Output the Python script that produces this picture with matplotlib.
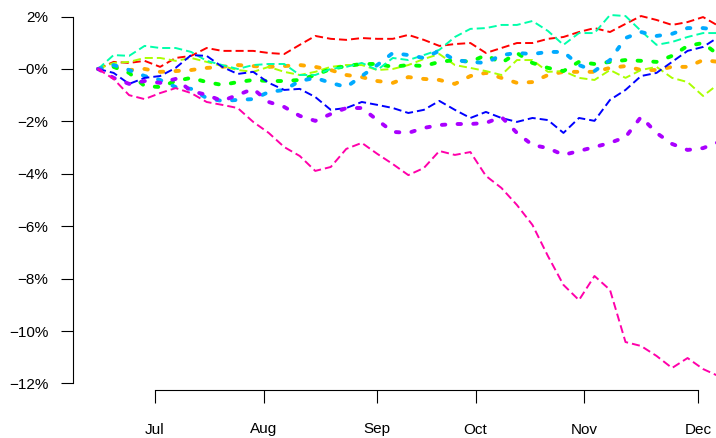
import numpy as np
import matplotlib
matplotlib.use('Agg')
import matplotlib.pyplot as plt

plt.rcParams['font.family'] = ['Liberation Sans', 'DejaVu Sans']
plt.rcParams['lines.scale_dashes'] = False

# trading-day index of each sample (every 3rd day)
days = list(range(0, 121, 3))

# cumulative returns in percent
red = [0.0, 0.27, 0.23, 0.31, 0.08, 0.42, 0.50, 0.80, 0.69, 0.69, 0.69, 0.61, 0.57, 0.92,
       1.26, 1.15, 1.11, 1.18, 1.15, 1.15, 1.30, 1.11, 0.88, 0.95, 0.99, 0.61, 0.80, 0.99,
       0.99, 1.15, 1.22, 1.41, 1.56, 1.41, 1.72, 2.02, 1.87, 1.68, 1.79, 1.98, 1.64]
orange = [0.0, 0.11, -0.04, 0.0, -0.11, -0.08, -0.04, 0.04, 0.08, 0.15, 0.11, 0.08, 0.11,
          0.15, 0.08, -0.04, -0.23, -0.31, -0.46, -0.53, -0.31, -0.38, -0.42, -0.57, -0.27,
          -0.15, -0.34, -0.53, -0.50, -0.23, -0.11, -0.11, -0.11, 0.04, 0.11, -0.04, -0.04,
          0.08, 0.08, 0.34, 0.27]
yellowgreen = [0.0, 0.23, 0.27, 0.42, 0.42, 0.31, 0.42, 0.27, 0.11, -0.04, -0.11, 0.08,
               -0.11, -0.23, -0.11, 0.08, 0.15, 0.15, -0.04, 0.0, 0.15, 0.38, 0.57, 0.15,
               0.04, -0.08, -0.23, 0.34, 0.34, -0.11, -0.08, -0.34, -0.42, -0.04, -0.34,
               -0.04, 0.08, -0.34, -0.50, -1.03, -0.57]
green = [0.0, 0.08, -0.15, -0.65, -0.69, -0.46, -0.34, -0.50, -0.61, -0.50, -0.42, -0.46,
         -0.46, -0.42, -0.23, 0.0, 0.11, 0.19, 0.19, 0.08, 0.15, 0.11, 0.27, 0.34, 0.27,
         0.53, 0.23, 0.61, 0.23, 0.04, -0.08, 0.27, 0.19, 0.27, 0.34, 0.31, 0.27, 0.50,
         0.88, 0.99, 0.53]
aquamarine = [0.0, 0.53, 0.50, 0.88, 0.80, 0.80, 0.65, 0.31, 0.15, 0.0, 0.15, 0.19, 0.19,
              -0.23, -0.23, 0.0, 0.08, 0.23, -0.04, 0.42, 0.34, 0.53, 0.73, 1.22, 1.53,
              1.56, 1.68, 1.68, 1.83, 1.45, 0.92, 1.37, 1.37, 2.06, 2.02, 1.45, 0.92, 1.03,
              1.22, 1.37, 1.37]
skyblue = [0.0, 0.15, -0.04, -0.27, -0.42, -0.69, -0.76, -1.11, -1.22, -1.18, -1.15, -0.88,
           -0.80, -0.46, -0.34, -0.53, -0.69, -0.27, 0.15, 0.61, 0.53, 0.42, 0.69, 0.34,
           0.27, 0.23, 0.53, 0.61, 0.57, 0.65, 0.65, 0.15, -0.08, 0.34, 1.18, 1.41, 1.26,
           1.34, 1.56, 1.56, 1.49]
blue = [0.0, -0.15, -0.57, -0.34, -0.27, 0.04, 0.53, 0.50, 0.08, -0.19, -0.11, -0.53, -0.80,
        -0.76, -1.07, -1.56, -1.49, -1.26, -1.37, -1.49, -1.68, -1.56, -1.22, -1.56, -1.87,
        -1.64, -1.87, -2.02, -1.87, -1.95, -2.44, -1.87, -1.98, -1.18, -0.80, -0.27, -0.15,
        0.27, 0.69, 0.84, 1.22]
purple = [0.0, -0.34, -0.57, -0.46, -0.53, -0.38, -0.84, -0.99, -1.22, -0.99, -0.76, -1.26,
          -1.45, -1.79, -1.98, -1.72, -1.49, -1.49, -1.95, -2.40, -2.44, -2.25, -2.14, -2.10,
          -2.10, -2.06, -1.83, -2.44, -2.90, -3.02, -3.28, -3.13, -2.98, -2.82, -2.60, -1.83,
          -2.44, -2.86, -3.09, -3.02, -2.79]
pink = [0.0, -0.38, -1.00, -1.15, -0.92, -0.73, -0.92, -1.26, -1.37, -1.49, -2.02, -2.44,
        -2.98, -3.32, -3.89, -3.74, -3.05, -2.82, -3.24, -3.63, -4.05, -3.78, -3.13, -3.28,
        -3.17, -4.08, -4.54, -5.19, -5.95, -7.14, -8.24, -8.82, -7.90, -8.43, -10.42, -10.57,
        -10.95, -11.41, -11.03, -11.45, -11.72]

series = [red, orange, yellowgreen, green, aquamarine, skyblue, blue, purple, pink]
colors = ['#FF0000', '#FFAA00', '#AAFF00', '#00FF00', '#00FFAA', '#00AAFF', '#0000FF',
          '#AA00FF', '#FF00AA']

month_pos = [11, 32, 54, 73, 94, 116]
month_labels = ['Jul', 'Aug', 'Sep', 'Oct', 'Nov', 'Dec']
y_ticks = [2, 0, -2, -4, -6, -8, -10, -12]
y_labels = ['2%', '\u22120%', '\u22122%', '\u22124%', '\u22126%', '\u22128%', '\u221210%', '\u221212%']

fig = plt.figure(figsize=(7.16, 4.38), dpi=100)
ax = fig.add_axes([73 / 716, 48 / 438, 643 / 716, 380 / 438])

for i, (vals, col) in enumerate(zip(series, colors)):
    if i % 2 == 0:
        ax.plot(days, vals, color=col, lw=1.4, dashes=(5.8, 2.9), solid_capstyle='butt')
    else:
        ax.plot(days, vals, color=col, lw=2.8, dashes=(2.5, 8.8),
                dash_capstyle='round', solid_capstyle='round')

ax.set_xlim(-4.85, 119.5)
ax.set_ylim(-12.25, 2.25)

for s in ['top', 'right']:
    ax.spines[s].set_visible(False)
ax.spines['left'].set_bounds(-12, 2)
ax.spines['bottom'].set_bounds(month_pos[0], month_pos[-1])
ax.spines['left'].set_linewidth(0.8)
ax.spines['bottom'].set_linewidth(0.8)

ax.set_yticks(y_ticks)
ax.set_yticklabels(y_labels)
ax.set_xticks(month_pos)
ax.set_xticklabels(month_labels)
ax.tick_params(axis='y', length=8.6, width=0.8, pad=9, labelsize=11)
ax.tick_params(axis='x', length=9.4, width=0.8, pad=14, labelsize=11)

fig.savefig('out.png', dpi=100)
